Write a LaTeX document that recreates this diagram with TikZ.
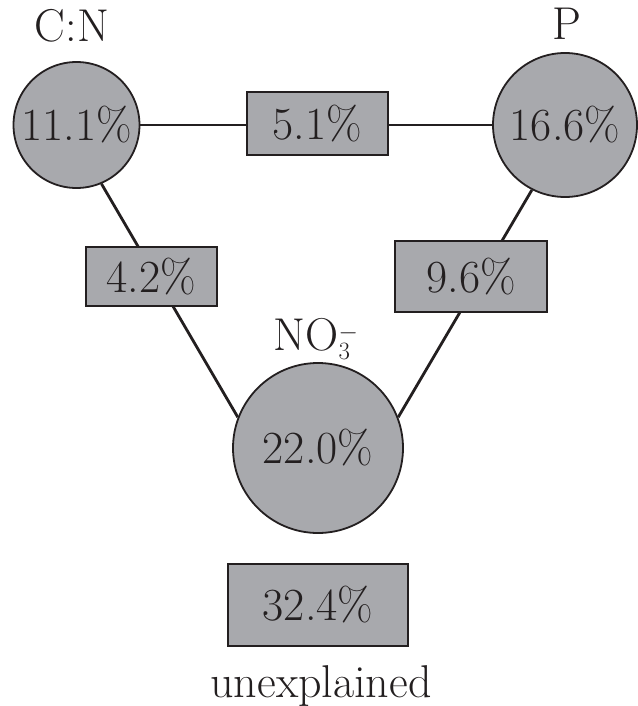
\documentclass[tikz,border=0pt]{standalone}
\usepackage{xcolor}
\definecolor{Ink}{RGB}{35,31,32}
\definecolor{Shade}{RGB}{168,169,173}
\usepackage{tikz}
\usetikzlibrary{positioning}
\pgfdeclarelayer{background}
\pgfsetlayers{background,main}
\tikzstyle{Big}=[font=\fontsize{46}{55}\selectfont,text=Ink]
\tikzstyle{Circ}=[circle,draw=Ink,fill=Shade,line width=1.8pt,
inner sep=0pt,Big]
\tikzstyle{Box}=[rectangle,draw=Ink,fill=Shade,line width=1.8pt,
inner sep=0pt,Big]
\tikzstyle{Edge}=[draw=Ink,line width=2.8pt]
\tikzstyle{Name}=[Big,anchor=base,inner sep=0pt]

\begin{document}
\begin{tikzpicture}[x=1pt,y=-1pt]
            \useasboundingbox(0,0)rectangle(637,706);
            \node[Circ,minimum size=126pt](cn)at(76.5,125){11.1\%};
            \node[Circ,minimum size=144pt](p)at(565,125){16.6\%};
            \node[Circ,minimum size=170pt](no3)at(318,448){22.0\%};
            \node[Box,minimum width=141pt,minimum height=63pt](b51)
                at(317.5,123.5){5.1\%};
            \node[Box,minimum width=131pt,minimum height=59pt](b42)
                at(151.5,276.5){4.2\%};
            \node[Box,minimum width=152pt,minimum height=71pt](b96)
                at(471,276.5){9.6\%};
            \node[Box,minimum width=180pt,minimum height=82pt](b324)
                at(318,605){32.4\%};
            \node[Name](cnlab)at(72,42){C:N};
            \node[Name](plab)at(567,40){P};
            \node[Name](no3lab)at(316,350){NO$_3^-$};
            \node[Name](unexpl)at(321,697){unexplained};
            % connectors run under the boxes
            \begin{pgfonlayer}{background}
            \draw[Edge](cn)--(p);
            \draw[Edge](cn.-67)--(no3.159);
            \draw[Edge](p.243)--(no3.21);
            \end{pgfonlayer}
        \end{tikzpicture}
\end{document}
